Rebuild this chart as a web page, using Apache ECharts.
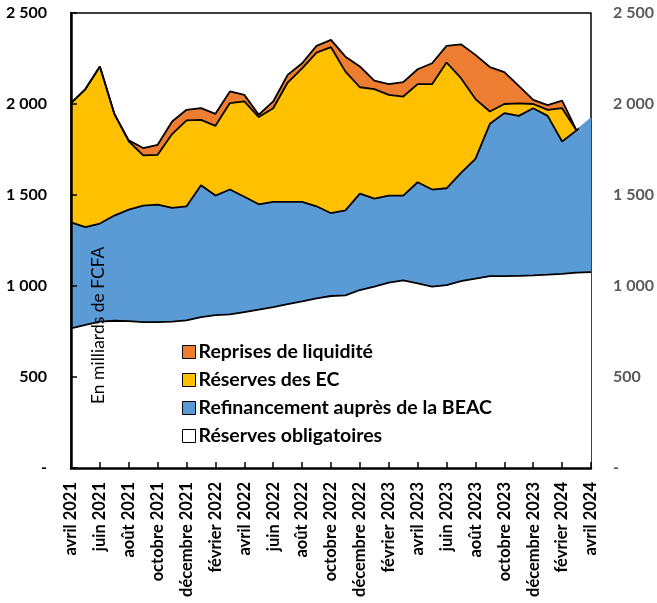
<!DOCTYPE html>
<html>
<head>
<meta charset="utf-8">
<script src="https://cdn.jsdelivr.net/npm/echarts@6/dist/echarts.min.js"></script>
<style>
  html, body { margin: 0; padding: 0; background: #fff; }
  #chart { width: 657px; height: 603px; }
</style>
</head>
<body>
<div id="chart"></div>
<script>
// mois, avril 2021 -> avril 2024
let mois = [
  "avril 2021", "mai 2021", "juin 2021", "juillet 2021", "août 2021", "septembre 2021",
  "octobre 2021", "novembre 2021", "décembre 2021", "janvier 2022", "février 2022", "mars 2022",
  "avril 2022", "mai 2022", "juin 2022", "juillet 2022", "août 2022", "septembre 2022",
  "octobre 2022", "novembre 2022", "décembre 2022", "janvier 2023", "février 2023", "mars 2023",
  "avril 2023", "mai 2023", "juin 2023", "juillet 2023", "août 2023", "septembre 2023",
  "octobre 2023", "novembre 2023", "décembre 2023", "janvier 2024", "février 2024", "mars 2024",
  "avril 2024"
];

// en milliards de FCFA
let reservesObligatoires = [
  767, 786, 804, 809, 807, 802, 802, 804, 811, 829, 840, 844,
  857, 870, 884, 901, 915, 932, 945, 948, 978, 996, 1018, 1031,
  1014, 996, 1005, 1027, 1040, 1054, 1054, 1056, 1058, 1062, 1067, 1073,
  1076
];
let refinancement = [
  583, 537, 539, 578, 613, 640, 645, 625, 627, 724, 657, 686,
  633, 579, 578, 561, 547, 506, 455, 468, 530, 484, 479, 466,
  556, 534, 532, 594, 658, 837, 896, 879, 919, 873, 727, 782,
  845
];
let reservesEC = [
  655, 759, 863, 559, 375, 276, 274, 406, 472, 360, 383, 475,
  524, 479, 515, 656, 734, 844, 912, 762, 584, 602, 553, 544,
  539, 579, 691, 521, 329, 68, 50, 68, 23, 33, 183, 0,
  null
];
let reprises = [
  0, 0, 0, 0, 5, 40, 55, 69, 58, 64, 66, 64,
  36, 13, 37, 42, 28, 37, 40, 82, 114, 47, 59, 79,
  82, 115, 91, 186, 243, 244, 175, 97, 23, 26, 41, 0,
  null
];

let yTicks = [0, 500, 1000, 1500, 2000, 2500];

let myChart = echarts.init(document.getElementById("chart"));

let fmt = function (v) {
  if (v === 0) return "-";
  return String(v).replace(/\B(?=(\d{3})+(?!\d))/g, " ");
};

let fontFam = "Lato, 'Open Sans', sans-serif";

// bord noir du refinancement seulement là où les EC existent
let lastEC = reservesEC.indexOf(null) > 0 ? reservesEC.indexOf(null) - 1 : mois.length - 1;
let cut = lastEC / (mois.length - 1);
let blueLine = new echarts.graphic.LinearGradient(0, 0, 1, 0, [
  { offset: 0, color: "#000" },
  { offset: cut, color: "#000" },
  { offset: cut, color: "#5B9BD5" },
  { offset: 1, color: "#5B9BD5" },
]);

let serie = function (name, data, fill, line) {
  return {
    name: name,
    type: "line",
    stack: "total",
    data: data,
    symbol: "none",
    smooth: false,
    connectNulls: false,
    itemStyle: { color: fill, borderColor: "#000", borderWidth: 1 },
    lineStyle: { color: line || "#000", width: 1.8 },
    areaStyle: { color: fill, opacity: 1 },
    emphasis: { disabled: true },
  };
};

let option = {
  animation: false,
  textStyle: { fontFamily: fontFam },
  grid: {
    left: 71,
    right: 66,
    top: 13,
    bottom: 135,
    show: true,
    borderColor: "#000",
    borderWidth: 1.5,
    backgroundColor: "transparent",
  },
  legend: {
    orient: "vertical",
    left: 177,
    top: 337,
    icon: "rect",
    itemWidth: 13,
    itemHeight: 13,
    itemGap: 8,
    selectedMode: false,
    data: [
      "Reprises de liquidité",
      "Réserves des EC",
      "Refinancement auprès de la BEAC",
      "Réserves obligatoires",
    ],
    itemStyle: { borderColor: "#000", borderWidth: 1 },
    textStyle: {
      fontFamily: fontFam,
      fontWeight: "bold",
      fontSize: 19.5,
      color: "#000",
      lineHeight: 20,
      padding: [0, 0, 0, -2],
    },
  },
  xAxis: {
    type: "category",
    data: mois,
    boundaryGap: false,
    z: 5,
    axisLine: { lineStyle: { color: "#000", width: 2.5 } },
    axisTick: { inside: true, interval: 1, length: 6, lineStyle: { color: "#000", width: 1.5 } },
    axisLabel: {
      interval: 1,
      rotate: 90,
      margin: 14,
      fontFamily: fontFam,
      fontWeight: "bold",
      fontSize: 16.5,
      color: "#000",
    },
  },
  yAxis: [
    {
      type: "value",
      min: 0,
      max: 2500,
      interval: 500,
      position: "left",
      z: 5,
      splitLine: { show: false },
      axisLine: { show: true, lineStyle: { color: "#000", width: 2.5 } },
      axisTick: { show: true, inside: true, length: 6, lineStyle: { color: "#000", width: 1.5 } },
      axisLabel: {
        margin: 24,
        fontFamily: fontFam,
        fontWeight: "bold",
        fontSize: 16,
        color: "#000",
        formatter: fmt,
        customValues: yTicks,
      },
    },
    {
      type: "value",
      min: 0,
      max: 2500,
      interval: 500,
      position: "right",
      splitLine: { show: false },
      axisLine: { show: false },
      axisTick: { show: false },
      axisLabel: {
        margin: 22,
        fontFamily: fontFam,
        fontWeight: "bold",
        fontSize: 16,
        color: "#595959",
        formatter: fmt,
        customValues: yTicks,
      },
    },
  ],
  graphic: [
    {
      type: "text",
      z: 100,
      x: 89,
      y: 404,
      rotation: Math.PI / 2,
      style: {
        text: "En milliards de FCFA",
        fontFamily: fontFam,
        fontSize: 17.5,
        fill: "#000",
        textAlign: "left",
        textVerticalAlign: "top",
      },
    },
  ],
  series: [
    serie("Réserves obligatoires", reservesObligatoires, "#FFFFFF"),
    serie("Refinancement auprès de la BEAC", refinancement, "#5B9BD5", blueLine),
    serie("Réserves des EC", reservesEC, "#FFC000"),
    serie("Reprises de liquidité", reprises, "#ED7D31"),
  ],
};

option && myChart.setOption(option);
</script>
</body>
</html>
